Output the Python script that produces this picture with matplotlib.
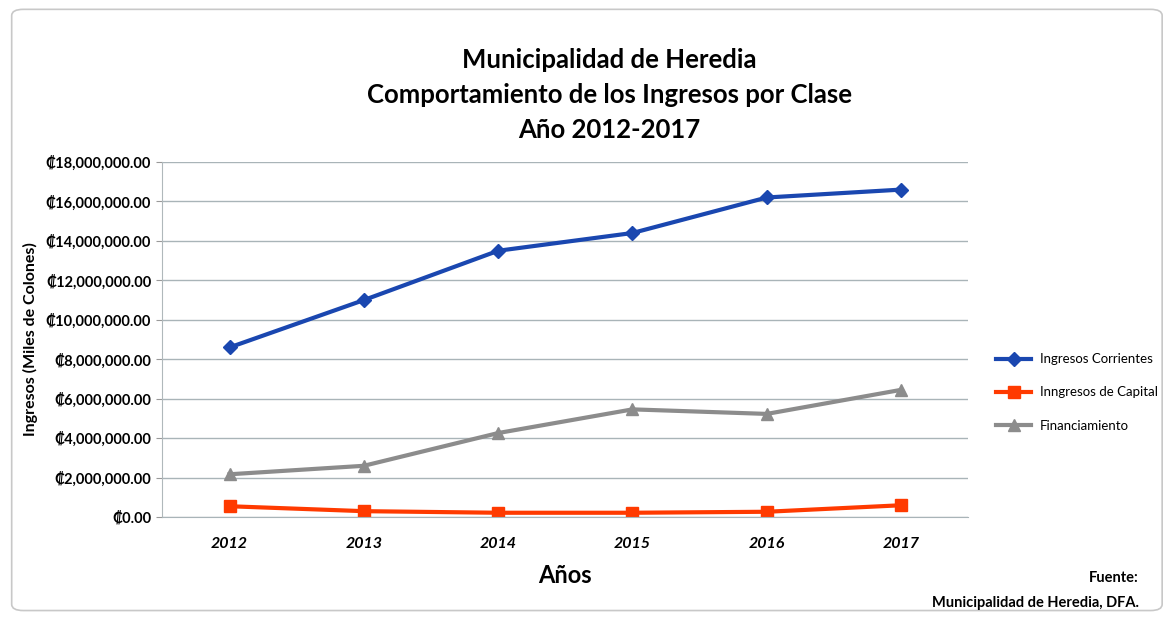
import matplotlib
matplotlib.use("Agg")
import matplotlib.pyplot as plt
from matplotlib.patches import FancyBboxPatch
from matplotlib.ticker import FuncFormatter

plt.rcParams['font.family'] = ['Lato', 'DejaVu Sans']

years = ["2012", "2013", "2014", "2015", "2016", "2017"]
corrientes = [8600000, 11000000, 13500000, 14400000, 16200000, 16600000]
capital = [550000, 300000, 220000, 220000, 270000, 600000]
financiamiento = [2170000, 2600000, 4260000, 5460000, 5230000, 6450000]
yticks = list(range(0, 18000001, 2000000))

fig = plt.figure(figsize=(11.68, 6.23), dpi=100)
fig.patch.set_facecolor("white")

border = FancyBboxPatch((0.01, 0.02), 0.985, 0.965, boxstyle="round,pad=0,rounding_size=0.01",
                        transform=fig.transFigure, facecolor="none", edgecolor="#c8c8c8", lw=1.2)
fig.patches.append(border)

ax = fig.add_axes([0.139, 0.17, 0.69, 0.57])
x = list(range(len(years)))
ax.plot(x, corrientes, color="#1a47b0", lw=3, marker="D", ms=7, label="Ingresos Corrientes")
ax.plot(x, capital, color="#ff3a00", lw=3, marker="s", ms=8, label="Inngresos de Capital")
ax.plot(x, financiamiento, color="#8c8c8c", lw=3, marker="^", ms=8, label="Financiamiento")

ax.set_xlim(-0.5, 5.5)
ax.set_ylim(0, 18000000)
ax.set_yticks(yticks)
ax.yaxis.set_major_formatter(FuncFormatter(lambda v, p: "\u20a1{:,.2f}".format(v)))
ax.set_xticks(x)
ax.set_xticklabels(years, fontsize=11.5, fontweight="bold", fontstyle="italic")
for lab in ax.get_yticklabels():
    lab.set_fontweight("bold")
    lab.set_fontsize(10.5)
ax.tick_params(axis="y", length=4, color="#999999", pad=4)
ax.tick_params(axis="x", length=0, pad=14)
ax.grid(axis="y", color="#a9b4b8", lw=1)
ax.set_axisbelow(True)
for s in ["top", "right"]:
    ax.spines[s].set_visible(False)
ax.spines["left"].set_color("#b0b8bb")
ax.spines["bottom"].set_color("#a9b4b8")

ax.set_ylabel("Ingresos (Miles de Colones)", fontsize=11.5, fontweight="bold", labelpad=6)
ax.set_xlabel("Años", fontsize=17, fontweight="bold", labelpad=10)

fig.text(0.522, 0.848, "Municipalidad de Heredia\nComportamiento de los Ingresos por Clase\nAño 2012-2017",
         ha="center", va="center", fontsize=18.5, fontweight="bold", linespacing=1.55)

leg = fig.legend(loc="center left", bbox_to_anchor=(0.843, 0.37), frameon=False,
                 fontsize=9.5, handlelength=2.6, handletextpad=0.7, labelspacing=1.6)

fig.text(0.975, 0.072, "Fuente:", ha="right", va="center", fontsize=10.5, fontweight="bold")
fig.text(0.975, 0.032, "Municipalidad de Heredia, DFA.", ha="right", va="center", fontsize=10.5, fontweight="bold")

fig.savefig("out.png", dpi=100, facecolor="white")
